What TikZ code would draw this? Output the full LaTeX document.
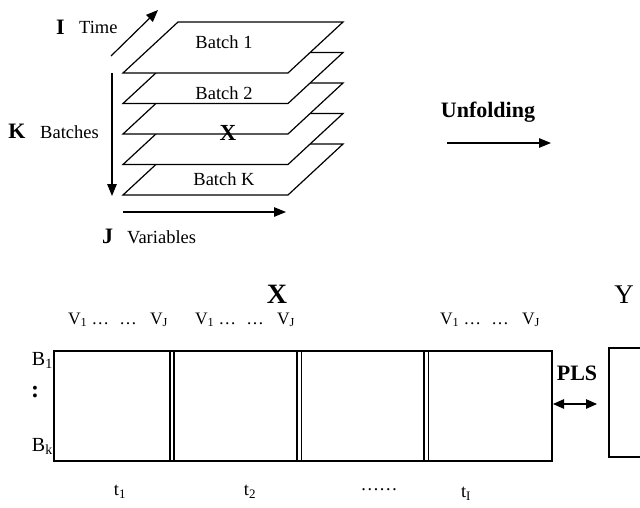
\documentclass[tikz,border=0pt]{standalone}
\usepackage{fontspec}
\setmainfont{Liberation Serif}
\usetikzlibrary{arrows.meta}
\tikzset{
  lw/.style={line width=1.2pt},
  arr/.style={lw,-{Triangle[length=12pt,width=9.5pt]}},
  darr/.style={lw,{Triangle[length=11pt,width=9.5pt]}-{Triangle[length=11pt,width=9.5pt]}},
  slab/.style={lw,fill=white,line join=miter},
  txt/.style={inner sep=0pt,font=\fontsize{18.5}{20}\selectfont},
  bigb/.style={inner sep=0pt,font=\fontsize{22}{24}\selectfont\bfseries},
}
\begin{document}
\begin{tikzpicture}[x=1pt,y=-1pt]
\useasboundingbox (0,0) rectangle (640,507);
% slabs, bottom first
\foreach \i in {4,3,2,1,0}{
  \pgfmathsetmacro{\yy}{73+30.5*\i}
  \draw[slab] (123,\yy) -- (288,\yy) -- (343,\yy-51) -- (178,\yy-51) -- cycle;
}
\node[txt] (b1) at (224,42) {Batch 1};
\node[txt] (b2) at (224,93) {Batch 2};
\node[txt] (bk) at (224,179) {Batch K};
\node[inner sep=0pt,font=\fontsize{23}{25}\selectfont\bfseries] (x3) at (228,133) {X};
% axes
\coordinate (ti0) at (111,56); \coordinate (ti1) at (158,10);
\draw[arr] (ti0) -- (ti1);
\coordinate (ba0) at (112,73); \coordinate (ba1) at (112,196);
\draw[arr] (ba0) -- (ba1);
\coordinate (va0) at (123,212); \coordinate (va1) at (286,212);
\draw[arr] (va0) -- (va1);
\node[bigb] (I) at (60.5,27) {I};
\node[txt,anchor=west] (time) at (79,27) {Time};
\node[bigb] (K) at (17,131) {K};
\node[txt,anchor=west] (batches) at (40,132) {Batches};
\node[bigb] (J) at (107.5,236) {J};
\node[txt,anchor=west] (vars) at (127,237) {Variables};
% unfolding
\node[bigb] (unf) at (488,112) {Unfolding};
\coordinate (u0) at (447,143); \coordinate (u1) at (551,143);
\draw[arr] (u0) -- (u1);
% unfolded matrix
\node[lw,draw,minimum width=498pt,minimum height=110pt,inner sep=0pt] (Xm) at (303,406) {};
\foreach \a/\b in {170/174,297/301.5,424/428.5}{
  \draw[lw] (\a,351) -- (\a,461);
  \draw[lw] (\b,351) -- (\b,461);
}
\node[inner sep=0pt,font=\fontsize{28}{30}\selectfont\bfseries] (Xl) at (277,294) {X};
\node[inner sep=0pt,font=\fontsize{27}{30}\selectfont] (Yl) at (624,295) {Y};
\node[txt,font=\fontsize{17.5}{19}\selectfont] (v1) at (118,320) {V\textsubscript{1} …\,\, …\,\,\, V\textsubscript{J}};
\node[txt,font=\fontsize{17.5}{19}\selectfont] (v2) at (245,320) {V\textsubscript{1} …\,\, …\,\,\, V\textsubscript{J}};
\node[txt,font=\fontsize{17.5}{19}\selectfont] (v3) at (490,320) {V\textsubscript{1} …\,\, …\,\,\, V\textsubscript{J}};
\node[txt,font=\fontsize{20}{22}\selectfont,anchor=east] (B1) at (53,360) {B\textsubscript{1}};
\node[txt,font=\fontsize{24}{26}\selectfont\bfseries] (dots) at (35,392) {:};
\node[txt,font=\fontsize{20}{22}\selectfont,anchor=east] (Bk) at (53,446) {B\textsubscript{k}};
\node[txt] (t1) at (120,492) {t\textsubscript{1}};
\node[txt] (t2) at (250,492) {t\textsubscript{2}};
\node[txt] (tdots) at (379,490) {……};
\node[txt] (tI) at (466,494) {t\textsubscript{I}};
% Y matrix
\draw[lw] (640,348) -- (609,348) -- (609,457) -- (640,457);
\coordinate (ym) at (597,404);
\coordinate (xm) at (553,404);
\draw[darr] (xm) -- (ym);
\node[bigb] (pls) at (577,373) {PLS};
\end{tikzpicture}
\end{document}
